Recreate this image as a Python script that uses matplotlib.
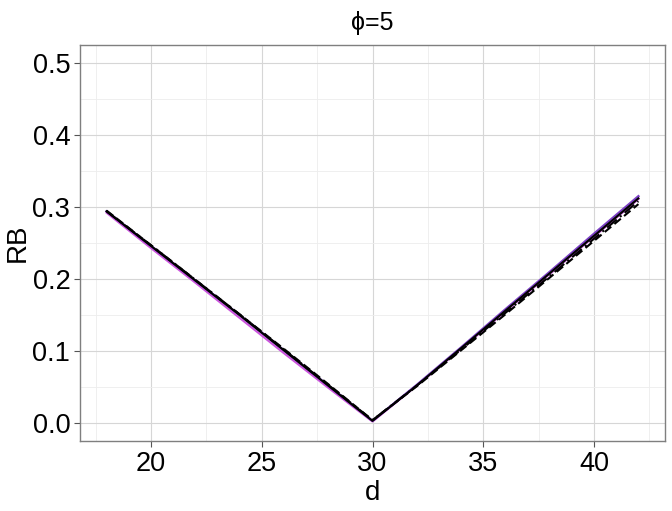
import matplotlib
matplotlib.use("Agg")
import matplotlib.pyplot as plt
from matplotlib.ticker import MultipleLocator

plt.rcParams['font.family'] = ['Liberation Sans', 'DejaVu Sans']

d = [18, 20, 22, 24, 26, 28, 30, 32, 34, 36, 38, 40, 42]
rb_purple  = [0.294, 0.246, 0.198, 0.150, 0.101, 0.052, 0.003, 0.053, 0.105, 0.158, 0.210, 0.263, 0.315]
rb_magenta = [0.292, 0.243, 0.195, 0.146, 0.097, 0.049, 0.002, 0.052, 0.103, 0.155, 0.207, 0.259, 0.311]
rb_black   = [0.294, 0.246, 0.198, 0.150, 0.101, 0.052, 0.003, 0.052, 0.104, 0.156, 0.208, 0.260, 0.312]
rb_dashed  = [0.295, 0.247, 0.199, 0.151, 0.103, 0.054, 0.004, 0.051, 0.101, 0.151, 0.202, 0.253, 0.304]
rb_dotdash = [0.294, 0.247, 0.199, 0.151, 0.102, 0.053, 0.004, 0.052, 0.102, 0.153, 0.204, 0.256, 0.308]

fig = plt.figure(figsize=(6.72, 5.11), dpi=100)
ax = fig.add_axes([80/672, 1 - 441/511, 585/672, (441 - 45)/511])

ax.plot(d, rb_magenta, color='#CC55DD', lw=1.5, zorder=3)
ax.plot(d, rb_purple, color='#7B3FC4', lw=1.7, zorder=3)
ax.plot(d, rb_black, color='black', lw=1.5, zorder=4)
ax.plot(d, rb_dotdash, color='black', lw=1.5, ls=(0, (6, 2, 1, 2)), zorder=4)
ax.plot(d, rb_dashed, color='black', lw=1.5, ls=(0, (4, 2)), zorder=4)

ax.set_xlim(16.8, 43.2)
ax.set_ylim(-0.025, 0.525)
ax.xaxis.set_major_locator(MultipleLocator(5))
ax.xaxis.set_minor_locator(MultipleLocator(2.5))
ax.yaxis.set_minor_locator(MultipleLocator(0.05))
ax.set_yticks([0.0, 0.1, 0.2, 0.3, 0.4, 0.5])
ax.set_yticklabels(['0.0', '0.1', '0.2', '0.3', '0.4', '0.5'])

ax.grid(which='major', color='#D6D6D6', lw=0.8)
ax.grid(which='minor', color='#EDEDED', lw=0.6)
ax.set_axisbelow(True)
for s in ax.spines.values():
    s.set_color('#7F7F7F')
    s.set_linewidth(1.0)
ax.tick_params(which='major', length=4, color='#555555', labelsize=19.5, labelcolor='black', pad=3)
ax.tick_params(which='minor', length=0)

ax.set_xlabel('d', fontsize=20, labelpad=2)
ax.set_ylabel('RB', fontsize=20, labelpad=1)
ax.set_title('ϕ=5', fontsize=18, pad=11)

fig.savefig('out.png', dpi=100)
